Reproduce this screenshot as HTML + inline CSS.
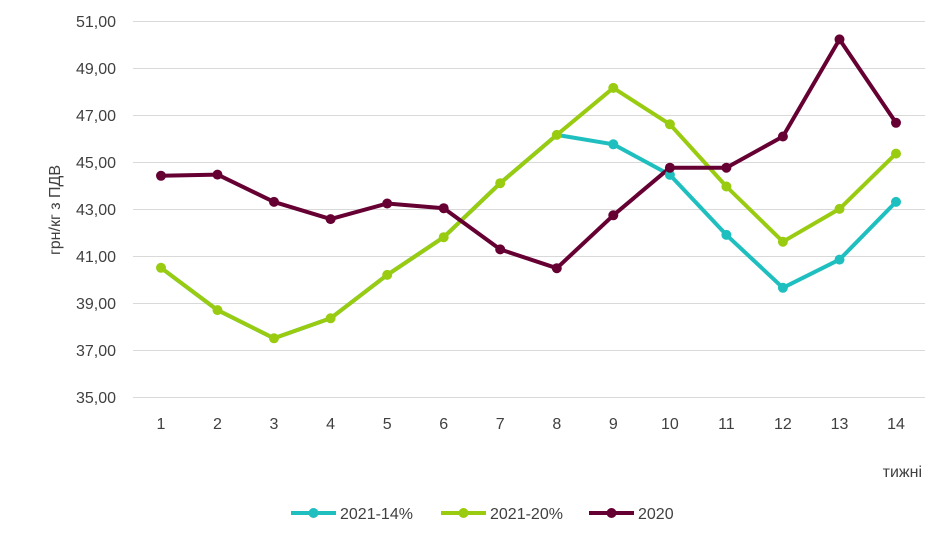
<!DOCTYPE html>
<html><head><meta charset="utf-8"><style>body{margin:0;background:#fff}svg{display:block}text{font-family:"Liberation Sans",sans-serif;fill:#404040}</style></head>
<body>
<svg width="946" height="547" xmlns="http://www.w3.org/2000/svg">
<g stroke="#d9d9d9" stroke-width="1">
<line x1="133" x2="925" y1="21.5" y2="21.5"/><line x1="133" x2="925" y1="68.5" y2="68.5"/><line x1="133" x2="925" y1="115.5" y2="115.5"/><line x1="133" x2="925" y1="162.5" y2="162.5"/><line x1="133" x2="925" y1="209.5" y2="209.5"/><line x1="133" x2="925" y1="256.5" y2="256.5"/><line x1="133" x2="925" y1="303.5" y2="303.5"/><line x1="133" x2="925" y1="350.5" y2="350.5"/><line x1="133" x2="925" y1="397.5" y2="397.5"/>
</g>
<g font-size="16" text-anchor="end">
<text x="116" y="27">51,00</text><text x="116" y="74">49,00</text><text x="116" y="121">47,00</text><text x="116" y="168">45,00</text><text x="116" y="215">43,00</text><text x="116" y="262">41,00</text><text x="116" y="309">39,00</text><text x="116" y="356">37,00</text><text x="116" y="403">35,00</text>
</g>
<g font-size="16" text-anchor="middle">
<text x="161" y="429">1</text><text x="217.5" y="429">2</text><text x="274" y="429">3</text><text x="330.6" y="429">4</text><text x="387.2" y="429">5</text><text x="443.7" y="429">6</text><text x="500.2" y="429">7</text><text x="556.8" y="429">8</text><text x="613.3" y="429">9</text><text x="669.9" y="429">10</text><text x="726.4" y="429">11</text><text x="782.9" y="429">12</text><text x="839.5" y="429">13</text><text x="896" y="429">14</text>
</g>
<text x="60" y="210" font-size="16" text-anchor="middle" transform="rotate(-90 60 210)">грн/кг з ПДВ</text>
<text x="922" y="477" font-size="16" text-anchor="end">тижні</text>
<g fill="none" stroke-width="4" stroke-linejoin="round">
<polyline stroke="#1fbfbf" points="161,267.8 217.5,310.1 274,338.3 330.6,318.3 387.2,274.9 443.7,237.2 500.2,183.2 556.8,134.9 613.3,144.3 669.9,174.9 726.4,234.9 782.9,287.8 839.5,259.6 896,201.9"/>
<polyline stroke="#99cc11" points="161,267.8 217.5,310.1 274,338.3 330.6,318.3 387.2,274.9 443.7,237.2 500.2,183.2 556.8,134.9 613.3,87.9 669.9,124.3 726.4,186.5 782.9,241.7 839.5,208.9 896,153.6"/>
<polyline stroke="#660033" points="161,175.8 217.5,174.6 274,201.9 330.6,219.1 387.2,203.5 443.7,208.2 500.2,249.4 556.8,268.2 613.3,215.3 669.9,167.7 726.4,167.7 782.9,136.5 839.5,39.4 896,122.8"/>
</g>
<g fill="#99cc11">
<circle cx="161" cy="267.8" r="5"/><circle cx="217.5" cy="310.1" r="5"/><circle cx="274" cy="338.3" r="5"/><circle cx="330.6" cy="318.3" r="5"/><circle cx="387.2" cy="274.9" r="5"/><circle cx="443.7" cy="237.2" r="5"/><circle cx="500.2" cy="183.2" r="5"/><circle cx="556.8" cy="134.9" r="5"/><circle cx="613.3" cy="87.9" r="5"/><circle cx="669.9" cy="124.3" r="5"/><circle cx="726.4" cy="186.5" r="5"/><circle cx="782.9" cy="241.7" r="5"/><circle cx="839.5" cy="208.9" r="5"/><circle cx="896" cy="153.6" r="5"/>
</g>
<g fill="#1fbfbf">
<circle cx="613.3" cy="144.3" r="5"/><circle cx="669.9" cy="174.9" r="5"/><circle cx="726.4" cy="234.9" r="5"/><circle cx="782.9" cy="287.8" r="5"/><circle cx="839.5" cy="259.6" r="5"/><circle cx="896" cy="201.9" r="5"/>
</g>
<g fill="#660033">
<circle cx="161" cy="175.8" r="5"/><circle cx="217.5" cy="174.6" r="5"/><circle cx="274" cy="201.9" r="5"/><circle cx="330.6" cy="219.1" r="5"/><circle cx="387.2" cy="203.5" r="5"/><circle cx="443.7" cy="208.2" r="5"/><circle cx="500.2" cy="249.4" r="5"/><circle cx="556.8" cy="268.2" r="5"/><circle cx="613.3" cy="215.3" r="5"/><circle cx="669.9" cy="167.7" r="5"/><circle cx="726.4" cy="167.7" r="5"/><circle cx="782.9" cy="136.5" r="5"/><circle cx="839.5" cy="39.4" r="5"/><circle cx="896" cy="122.8" r="5"/>
</g>
<g stroke-width="4">
<line x1="291" x2="336" y1="513" y2="513" stroke="#1fbfbf"/><circle cx="313.5" cy="513" r="5" fill="#1fbfbf"/>
<line x1="441" x2="486" y1="513" y2="513" stroke="#99cc11"/><circle cx="463.5" cy="513" r="5" fill="#99cc11"/>
<line x1="589" x2="634" y1="513" y2="513" stroke="#660033"/><circle cx="611.5" cy="513" r="5" fill="#660033"/>
</g>
<g font-size="16"><text x="340" y="519">2021-14%</text><text x="490" y="519">2021-20%</text><text x="638" y="519">2020</text></g>
</svg>
</body></html>
